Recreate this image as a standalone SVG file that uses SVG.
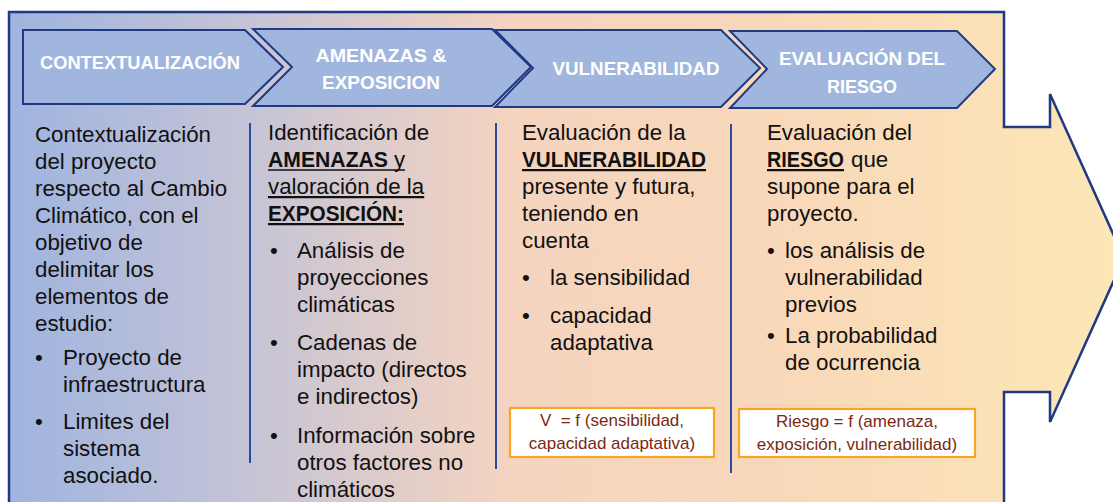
<svg xmlns="http://www.w3.org/2000/svg" width="1113" height="502" viewBox="0 0 1113 502">
  <defs>
    <linearGradient id="bg" x1="9" y1="0" x2="1124" y2="0" gradientUnits="userSpaceOnUse">
      <stop offset="0" stop-color="#9fb4df"/>
      <stop offset="0.22" stop-color="#c6c4d6"/>
      <stop offset="0.45" stop-color="#f5d4c0"/>
      <stop offset="0.72" stop-color="#f9d9b9"/>
      <stop offset="1" stop-color="#fce7b6"/>
    </linearGradient>
    <style>
      .chev { fill: #a1b6de; stroke: #1f3a82; stroke-width: 2; stroke-linejoin: miter; }
      .ct { font-family: "Liberation Sans", Arial, sans-serif; font-weight: bold; font-size: 19px; fill: #ffffff; text-anchor: middle; }
      .bt { font-family: "Liberation Sans", Arial, sans-serif; font-size: 22.3px; fill: #111111; }
      .b { font-weight: bold; }
      .u { text-decoration: underline; }
      .ul { stroke: #111111; stroke-width: 1.7; }
      .sep { stroke: #2c4a9c; stroke-width: 2; fill: none; }
      .fbox { fill: #ffffff; stroke: #f6a623; stroke-width: 2.2; }
      .ft { font-family: "Liberation Sans", Arial, sans-serif; font-size: 17px; fill: #7a2912; text-anchor: middle; }
    </style>
  </defs>

  <g id="background">
    <path d="M9,12 H1004 V127 H1050 V94 L1124,258 L1050,422 V392 H1004 V512 H9 Z" fill="url(#bg)" stroke="#1f3a82" stroke-width="2.5"/>
  </g>

  <g id="chevron-contextualizacion">
    <polygon class="chev" points="23,30 245,30 283,67 245,104 23,104"/>
    <text class="ct" x="140" y="69" textLength="200" lengthAdjust="spacingAndGlyphs">CONTEXTUALIZACIÓN</text>
  </g>
  <g id="chevron-amenazas">
    <polygon class="chev" points="253,29 492,29 531,67 492,106 253,106 292,67"/>
    <text class="ct" x="381" y="62" textLength="131" lengthAdjust="spacingAndGlyphs">AMENAZAS &amp;</text>
    <text class="ct" x="381" y="89" textLength="118" lengthAdjust="spacingAndGlyphs">EXPOSICION</text>
  </g>
  <g id="chevron-vulnerabilidad">
    <polygon class="chev" points="495,30 721,30 760,68 721,107 495,107 533,68"/>
    <text class="ct" x="636" y="75" textLength="167" lengthAdjust="spacingAndGlyphs">VULNERABILIDAD</text>
  </g>
  <g id="chevron-riesgo">
    <polygon class="chev" points="730,31 957,31 995,69 957,108 730,108 767,69"/>
    <text class="ct" x="862" y="65" textLength="166" lengthAdjust="spacingAndGlyphs">EVALUACIÓN DEL</text>
    <text class="ct" x="862" y="93" textLength="70" lengthAdjust="spacingAndGlyphs">RIESGO</text>
  </g>

  <g id="connectors">
    <line class="sep" x1="250" y1="123" x2="250" y2="463"/>
    <line class="sep" x1="496" y1="123" x2="496" y2="469"/>
    <line class="sep" x1="731" y1="124" x2="731" y2="473"/>
  </g>

  <g id="col-contextualizacion">
    <text class="bt" x="35" y="142">Contextualización</text>
    <text class="bt" x="35" y="169">del proyecto</text>
    <text class="bt" x="35" y="196">respecto al Cambio</text>
    <text class="bt" x="35" y="223">Climático, con el</text>
    <text class="bt" x="35" y="250">objetivo de</text>
    <text class="bt" x="35" y="277">delimitar los</text>
    <text class="bt" x="35" y="304">elementos de</text>
    <text class="bt" x="35" y="331">estudio:</text>
    <text class="bt" x="35" y="365">•</text>
    <text class="bt" x="63" y="365">Proyecto de</text>
    <text class="bt" x="63" y="392">infraestructura</text>
    <text class="bt" x="35" y="429">•</text>
    <text class="bt" x="63" y="429">Limites del</text>
    <text class="bt" x="63" y="456">sistema</text>
    <text class="bt" x="63" y="483">asociado.</text>
  </g>

  <g id="col-amenazas">
    <text class="bt" x="268" y="140">Identificación de</text>
    <text class="bt b" x="268" y="167" textLength="120" lengthAdjust="spacingAndGlyphs">AMENAZAS</text>
    <text class="bt" x="394" y="167">y</text>
    <line class="ul" x1="268" y1="170" x2="405" y2="170"/>
    <text class="bt u" x="268" y="194">valoración de la</text>
    <text class="bt b u" x="268" y="221" textLength="136" lengthAdjust="spacingAndGlyphs">EXPOSICIÓN:</text>
    <text class="bt" x="270" y="258">•</text>
    <text class="bt" x="297" y="258">Análisis de</text>
    <text class="bt" x="297" y="285">proyecciones</text>
    <text class="bt" x="297" y="312">climáticas</text>
    <text class="bt" x="270" y="350">•</text>
    <text class="bt" x="297" y="350">Cadenas de</text>
    <text class="bt" x="297" y="377">impacto (directos</text>
    <text class="bt" x="297" y="404">e indirectos)</text>
    <text class="bt" x="270" y="443">•</text>
    <text class="bt" x="297" y="443">Información sobre</text>
    <text class="bt" x="297" y="470">otros factores no</text>
    <text class="bt" x="297" y="497">climáticos</text>
  </g>

  <g id="col-vulnerabilidad">
    <text class="bt" x="522" y="140">Evaluación de la</text>
    <text class="bt b u" x="522" y="167" textLength="184" lengthAdjust="spacingAndGlyphs">VULNERABILIDAD</text>
    <text class="bt" x="522" y="194">presente y futura,</text>
    <text class="bt" x="522" y="221">teniendo en</text>
    <text class="bt" x="522" y="248">cuenta</text>
    <text class="bt" x="522" y="285">•</text>
    <text class="bt" x="550" y="285">la sensibilidad</text>
    <text class="bt" x="522" y="323">•</text>
    <text class="bt" x="550" y="323">capacidad</text>
    <text class="bt" x="550" y="350">adaptativa</text>
    <rect class="fbox" x="510" y="408" width="204" height="49"/>
    <text class="ft" x="612" y="426">V&#160; = f (sensibilidad,</text>
    <text class="ft" x="612" y="449">capacidad adaptativa)</text>
  </g>

  <g id="col-riesgo">
    <text class="bt" x="767" y="140">Evaluación del</text>
    <text class="bt b u" x="767" y="167" textLength="77" lengthAdjust="spacingAndGlyphs">RIESGO</text>
    <text class="bt" x="851" y="167">que</text>
    <text class="bt" x="767" y="194">supone para el</text>
    <text class="bt" x="767" y="221">proyecto.</text>
    <text class="bt" x="767" y="258">•</text>
    <text class="bt" x="785" y="258">los análisis de</text>
    <text class="bt" x="785" y="285">vulnerabilidad</text>
    <text class="bt" x="785" y="312">previos</text>
    <text class="bt" x="767" y="343">•</text>
    <text class="bt" x="785" y="343">La probabilidad</text>
    <text class="bt" x="785" y="370">de ocurrencia</text>
    <rect class="fbox" x="739" y="409" width="236" height="48"/>
    <text class="ft" x="857" y="427">Riesgo = f (amenaza,</text>
    <text class="ft" x="857" y="450">exposición, vulnerabilidad)</text>
  </g>
</svg>
